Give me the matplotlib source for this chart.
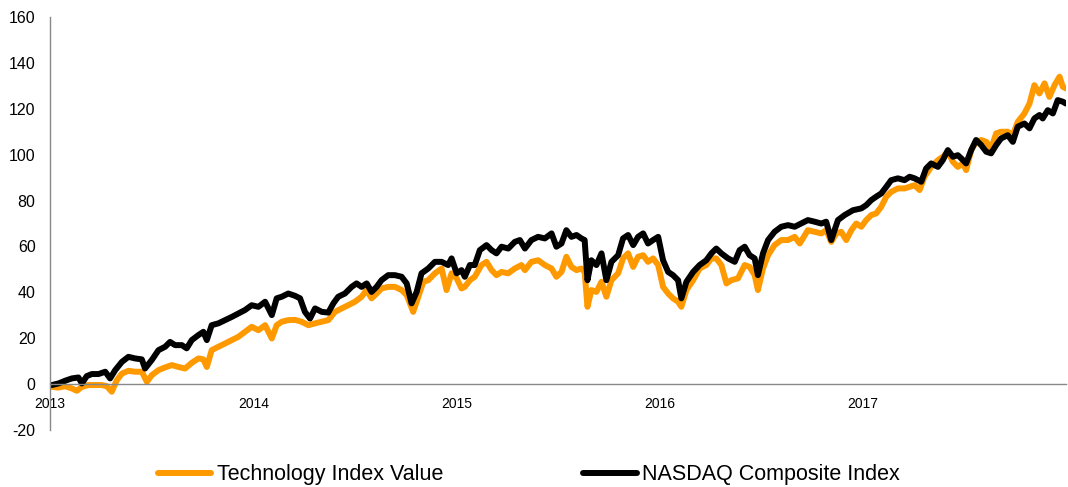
import matplotlib
matplotlib.use("Agg")
import matplotlib.pyplot as plt

# time in years since the start of 2013
nasdaq_t = [0.008, 0.041, 0.074, 0.107, 0.139, 0.156, 0.180, 0.205, 0.238, 0.271,
            0.295, 0.320, 0.353, 0.385, 0.418, 0.451, 0.467, 0.500, 0.533, 0.566,
            0.590, 0.615, 0.648, 0.672, 0.697, 0.730, 0.754, 0.771, 0.795, 0.828,
            0.861, 0.894, 0.926, 0.959, 0.992, 1.025, 1.058, 1.091, 1.115, 1.140,
            1.172, 1.205, 1.230, 1.254, 1.279, 1.304, 1.337, 1.369, 1.394, 1.418,
            1.451, 1.484, 1.508, 1.533, 1.558, 1.582, 1.607, 1.631, 1.664, 1.697,
            1.730, 1.755, 1.779, 1.804, 1.828, 1.861, 1.894, 1.927, 1.959, 1.976,
            2.001, 2.025, 2.041, 2.066, 2.090, 2.115, 2.148, 2.173, 2.197, 2.222,
            2.255, 2.287, 2.312, 2.337, 2.369, 2.402, 2.435, 2.468, 2.492, 2.517,
            2.541, 2.566, 2.591, 2.615, 2.631, 2.645, 2.664, 2.689, 2.714, 2.738,
            2.763, 2.796, 2.820, 2.845, 2.870, 2.894, 2.919, 2.943, 2.968, 2.993,
            3.017, 3.042, 3.066, 3.091, 3.107, 3.132, 3.165, 3.197, 3.230, 3.255,
            3.279, 3.304, 3.337, 3.370, 3.394, 3.419, 3.443, 3.468, 3.484, 3.509,
            3.534, 3.566, 3.599, 3.632, 3.665, 3.730, 3.763, 3.796, 3.820, 3.845,
            3.878, 3.911, 3.952, 3.993, 4.017, 4.042, 4.066, 4.091, 4.116, 4.140,
            4.173, 4.206, 4.231, 4.255, 4.288, 4.312, 4.337, 4.370, 4.394, 4.419,
            4.444, 4.468, 4.485, 4.509, 4.534, 4.558, 4.583, 4.608, 4.632, 4.657,
            4.681, 4.714, 4.739, 4.763, 4.796, 4.821, 4.845, 4.870, 4.886, 4.911,
            4.936, 4.960, 4.985, 5.000]
nasdaq_v = [-0.4, 0.3, 1.5, 2.5, 2.9, 0.3, 3.5, 4.4, 4.4, 5.4,
            2.5, 6.1, 9.7, 11.9, 11.2, 10.8, 6.8, 10.5, 14.8, 16.3,
            18.4, 17.0, 17.0, 15.6, 19.2, 21.4, 22.8, 19.2, 25.7, 26.5,
            27.9, 29.3, 30.8, 32.3, 34.4, 33.7, 35.9, 30.1, 37.4, 38.1,
            39.5, 38.5, 37.4, 31.5, 28.6, 33.0, 31.5, 31.2, 35.2, 38.1,
            39.5, 42.4, 43.9, 42.4, 43.9, 40.2, 42.4, 45.3, 47.5, 47.5,
            46.8, 43.9, 35.2, 40.2, 48.3, 50.4, 53.3, 53.3, 51.9, 54.8,
            48.3, 49.7, 46.8, 51.9, 51.9, 58.4, 60.6, 58.4, 57.0, 59.9,
            59.1, 62.0, 62.8, 59.1, 62.8, 64.2, 63.5, 65.7, 59.9, 61.3,
            67.1, 64.2, 65.0, 63.5, 62.8, 45.3, 54.0, 51.9, 57.0, 45.3,
            53.3, 56.2, 63.5, 65.0, 60.6, 64.2, 65.7, 61.3, 62.8, 64.2,
            54.0, 48.9, 47.5, 45.3, 37.4, 44.6, 48.9, 51.9, 54.0, 57.0,
            59.1, 57.0, 54.8, 53.3, 58.4, 59.9, 56.2, 54.8, 47.5, 57.0,
            62.8, 66.4, 68.6, 69.3, 68.6, 71.5, 70.8, 70.0, 70.8, 62.8,
            71.5, 73.7, 75.8, 76.6, 78.0, 80.2, 81.7, 83.1, 86.0, 88.9,
            89.7, 88.9, 90.4, 89.7, 88.2, 94.0, 96.2, 94.7, 97.6, 102.0,
            99.1, 99.8, 98.4, 96.2, 102.0, 106.4, 104.2, 101.3, 100.6, 104.2,
            107.1, 108.5, 105.6, 112.2, 113.6, 111.5, 115.8, 117.3, 115.8, 119.4,
            118.0, 123.8, 123.1, 122.3]

tech_t = [0.008, 0.041, 0.074, 0.107, 0.131, 0.156, 0.188, 0.221, 0.254, 0.279,
          0.303, 0.328, 0.353, 0.385, 0.418, 0.451, 0.476, 0.500, 0.533, 0.566,
          0.599, 0.631, 0.664, 0.697, 0.730, 0.754, 0.771, 0.795, 0.828, 0.861,
          0.894, 0.926, 0.959, 0.992, 1.025, 1.058, 1.091, 1.115, 1.140, 1.172,
          1.205, 1.238, 1.271, 1.304, 1.337, 1.369, 1.402, 1.435, 1.467, 1.500,
          1.533, 1.558, 1.582, 1.607, 1.631, 1.664, 1.697, 1.730, 1.755, 1.787,
          1.812, 1.837, 1.861, 1.894, 1.927, 1.951, 1.976, 2.001, 2.025, 2.041,
          2.066, 2.090, 2.123, 2.148, 2.173, 2.197, 2.222, 2.255, 2.287, 2.320,
          2.337, 2.369, 2.402, 2.435, 2.468, 2.492, 2.517, 2.541, 2.566, 2.591,
          2.615, 2.631, 2.645, 2.664, 2.689, 2.714, 2.738, 2.763, 2.796, 2.820,
          2.845, 2.870, 2.894, 2.919, 2.943, 2.968, 2.993, 3.017, 3.042, 3.066,
          3.091, 3.107, 3.132, 3.165, 3.197, 3.230, 3.255, 3.279, 3.304, 3.329,
          3.353, 3.386, 3.419, 3.443, 3.468, 3.484, 3.509, 3.534, 3.566, 3.599,
          3.632, 3.665, 3.690, 3.730, 3.763, 3.796, 3.820, 3.845, 3.870, 3.894,
          3.919, 3.944, 3.968, 3.993, 4.017, 4.042, 4.066, 4.091, 4.116, 4.140,
          4.173, 4.206, 4.231, 4.255, 4.280, 4.304, 4.337, 4.370, 4.394, 4.419,
          4.444, 4.468, 4.493, 4.509, 4.534, 4.558, 4.583, 4.608, 4.632, 4.657,
          4.681, 4.714, 4.739, 4.763, 4.796, 4.821, 4.845, 4.870, 4.895, 4.919,
          4.944, 4.969, 4.985, 5.000]
tech_v = [-1.2, -1.5, -0.9, -1.9, -2.9, -1.2, -0.4, -0.4, -0.4, -0.9,
          -3.3, 1.7, 4.6, 5.8, 5.4, 5.4, 1.0, 3.9, 6.1, 7.3,
          8.3, 7.5, 6.8, 9.3, 11.2, 10.8, 7.5, 14.8, 16.3, 17.7,
          19.2, 20.6, 22.8, 25.0, 23.5, 25.7, 19.9, 25.7, 27.2, 27.9,
          28.0, 27.2, 25.7, 26.5, 27.2, 27.9, 31.5, 33.0, 34.4, 35.9,
          38.1, 41.0, 37.4, 39.5, 41.7, 42.4, 42.4, 41.0, 38.8, 31.5,
          38.1, 44.6, 45.3, 48.3, 50.4, 41.0, 48.3, 46.1, 41.7, 42.4,
          45.3, 46.8, 51.9, 53.3, 49.7, 47.5, 48.9, 48.3, 50.4, 51.9,
          49.7, 53.3, 54.0, 51.9, 50.4, 46.8, 48.9, 55.5, 51.1, 49.7,
          50.4, 48.9, 33.7, 41.0, 40.2, 44.6, 38.1, 45.3, 48.3, 54.8,
          57.0, 51.1, 55.5, 56.2, 53.3, 54.8, 51.9, 42.4, 39.5, 37.4,
          35.9, 33.7, 41.0, 45.3, 50.4, 51.9, 54.8, 54.8, 51.9, 43.9,
          45.3, 46.1, 51.9, 51.1, 47.5, 41.0, 50.4, 56.2, 60.6, 62.8,
          62.8, 64.2, 61.3, 67.1, 66.4, 65.7, 67.1, 62.0, 65.7, 66.4,
          62.8, 67.1, 70.0, 68.6, 71.5, 73.7, 74.4, 77.3, 81.7, 83.8,
          85.3, 85.3, 86.0, 86.7, 84.6, 90.4, 94.7, 97.6, 99.1, 101.3,
          96.9, 94.7, 96.2, 93.3, 102.0, 105.6, 106.4, 105.6, 102.7, 109.3,
          110.0, 110.0, 108.5, 114.3, 118.0, 122.3, 130.3, 126.7, 131.1, 125.2,
          130.3, 134.0, 129.6, 128.9]

year_ticks = [0, 1, 2, 3, 4]
year_labels = ["2013", "2014", "2015", "2016", "2017"]
y_ticks = [-20, 0, 20, 40, 60, 80, 100, 120, 140, 160]

plt.rcParams['font.family'] = ['Liberation Sans', 'DejaVu Sans']

fig = plt.figure(figsize=(10.68, 4.87), dpi=100)
ax = fig.add_axes([0.047, 0.117, 0.951, 0.848])

ax.plot(tech_t, tech_v, color='#FF9900', lw=4.3, solid_joinstyle='round',
        solid_capstyle='round', label='Technology Index Value')
ax.plot(nasdaq_t, nasdaq_v, color='black', lw=4.3, solid_joinstyle='round',
        solid_capstyle='round', label='NASDAQ Composite Index')

ax.set_xlim(0, 5.0)
ax.set_ylim(-20, 160)
ax.set_yticks(y_ticks)
ax.set_yticklabels([str(v) for v in y_ticks], fontsize=11.5)
ax.set_xticks(year_ticks)
ax.set_xticklabels(year_labels, fontsize=11.5)

for s in ['top', 'right']:
    ax.spines[s].set_visible(False)
ax.spines['left'].set_color('#888888')
ax.spines['left'].set_linewidth(1)
ax.spines['bottom'].set_position(('data', 0))
ax.spines['bottom'].set_color('#888888')
ax.spines['bottom'].set_linewidth(1)
ax.tick_params(axis='both', length=0)
ax.tick_params(axis='y', pad=10.5)
ax.tick_params(axis='x', pad=9.5)

fig.legend(loc='center', bbox_to_anchor=(0.495, 0.025), ncol=2, frameon=False,
           fontsize=15.5, handlelength=2.5, handletextpad=0.24, columnspacing=6.5)

fig.savefig('out.png', dpi=100)
